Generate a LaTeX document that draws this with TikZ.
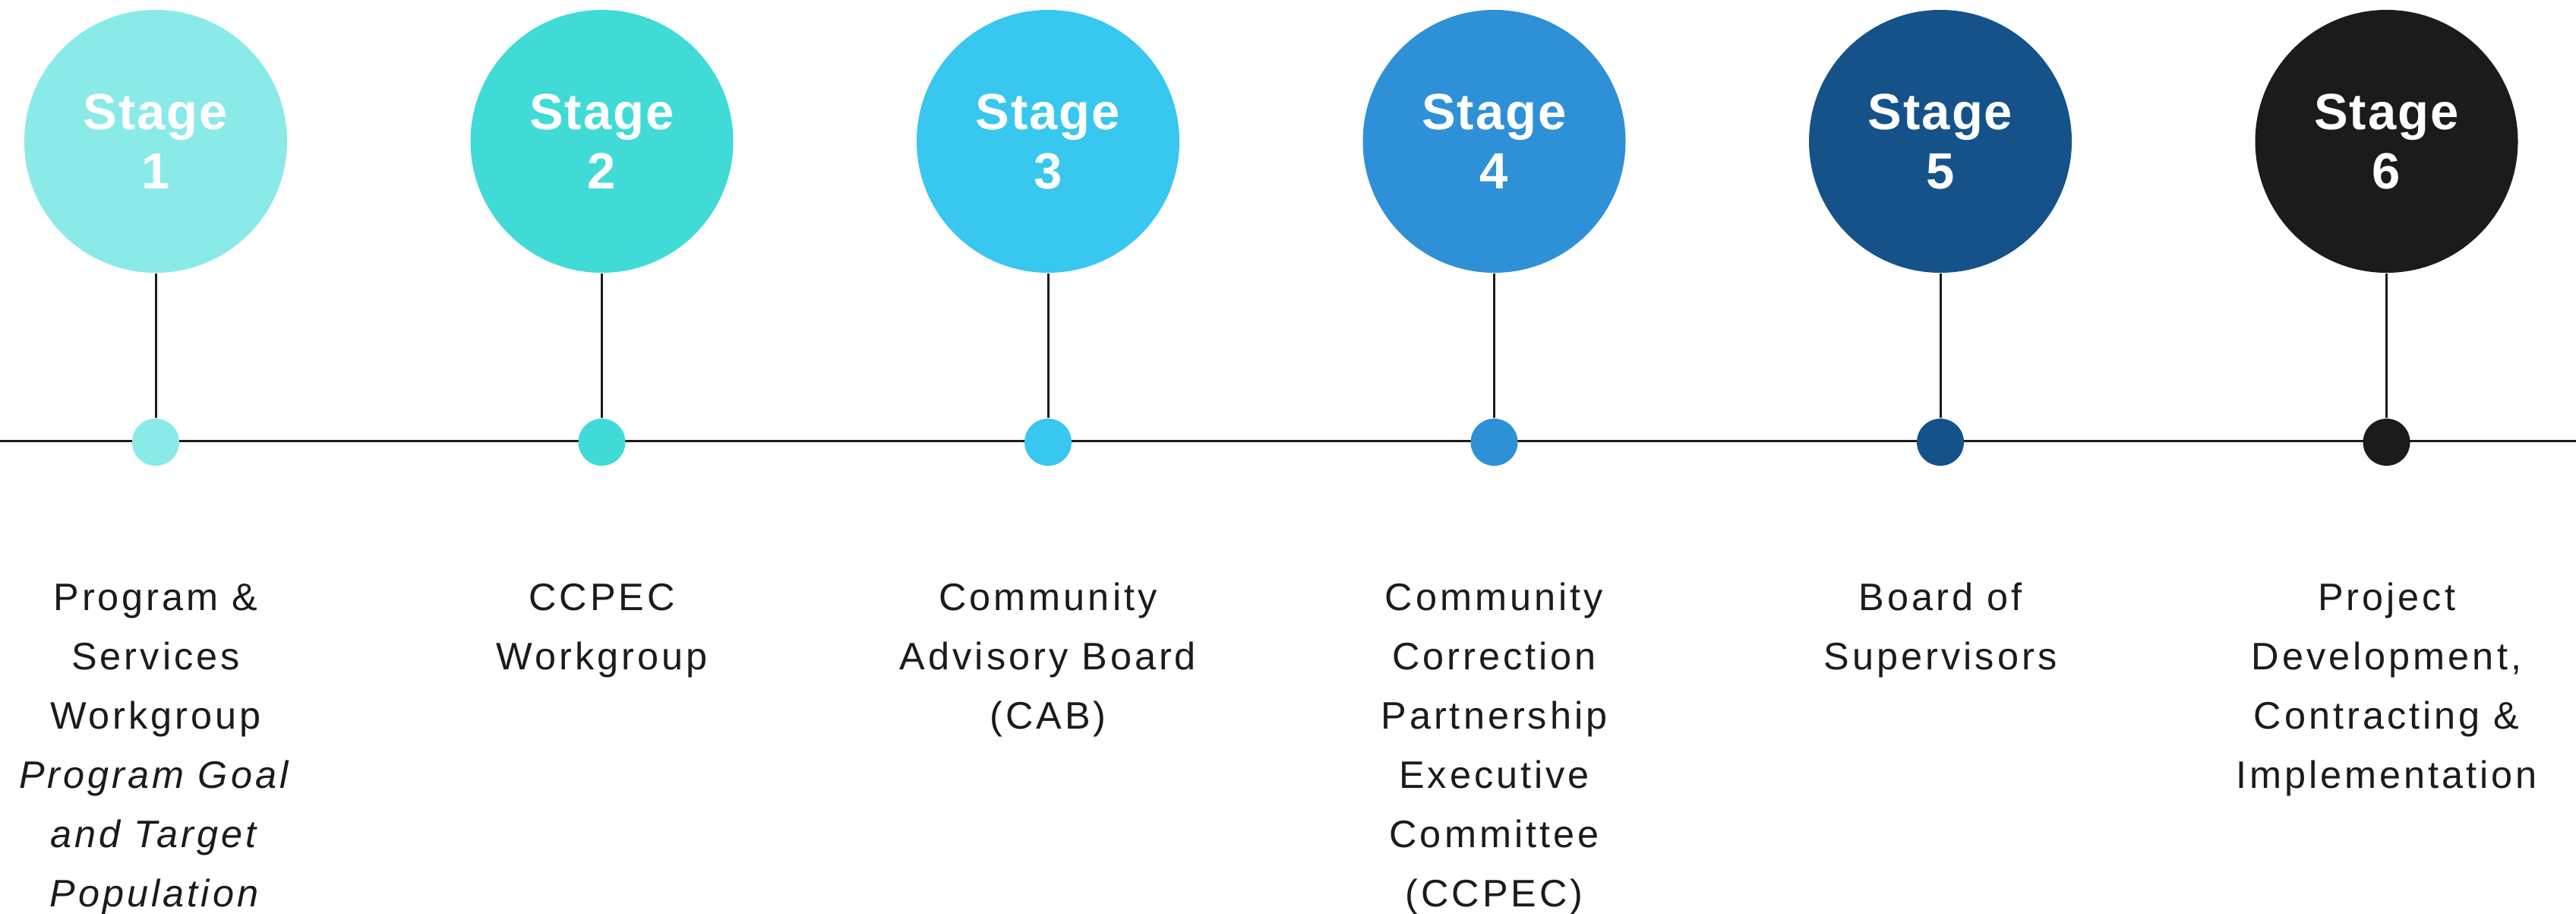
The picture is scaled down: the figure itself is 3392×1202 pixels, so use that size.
\documentclass[tikz,border=0pt]{standalone}
\usepackage{fontspec}
\setmainfont{Liberation Sans}
\newfontfamily\stagefont[LetterSpace=3]{Liberation Sans}
\newfontfamily\labelfont[LetterSpace=8]{Liberation Sans}
\definecolor{sa}{HTML}{8AEAE8}
\definecolor{sb}{HTML}{40DBD6}
\definecolor{sc}{HTML}{38C7EE}
\definecolor{sd}{HTML}{2E91D7}
\definecolor{se}{HTML}{15528A}
\definecolor{sf}{HTML}{1B1B1B}
\definecolor{linecol}{HTML}{1B1B1B}
\begin{document}
\begin{tikzpicture}[x=0.25pt,y=-0.25pt,
  stagecirc/.style={circle, minimum size=86.5pt, inner sep=0pt, text=white,
    font=\stagefont\bfseries\fontsize{16.75}{19.5}\selectfont, align=center},
  dotnode/.style={circle, minimum size=15.5pt, inner sep=0pt},
  conn/.style={draw=linecol, line width=0.75pt},
  lbl/.style={font=\labelfont\fontsize{12.6}{19.5}\selectfont, text=linecol,
    align=center, inner sep=0pt, anchor=base}]
\useasboundingbox (0,0) rectangle (3392,1202);
\fill[white] (0,0) rectangle (3392,1202);
\coordinate (L) at (0,580);
\coordinate (R) at (3392,580);
\draw[conn] (L) -- (R);
% stages
\node[stagecirc, fill=sa] (c1) at (205,186) {Stage\\1};
\node[stagecirc, fill=sb] (c2) at (792.5,186) {Stage\\2};
\node[stagecirc, fill=sc] (c3) at (1380,186) {Stage\\3};
\node[stagecirc, fill=sd] (c4) at (1967.5,186) {Stage\\4};
\node[stagecirc, fill=se] (c5) at (2555,186) {Stage\\5};
\node[stagecirc, fill=sf] (c6) at (3142.5,186) {Stage\\6};
\node[dotnode, fill=sa] (d1) at (205,582) {};
\node[dotnode, fill=sb] (d2) at (792.5,582) {};
\node[dotnode, fill=sc] (d3) at (1380,582) {};
\node[dotnode, fill=sd] (d4) at (1967.5,582) {};
\node[dotnode, fill=se] (d5) at (2555,582) {};
\node[dotnode, fill=sf] (d6) at (3142.5,582) {};
\foreach \i in {1,...,6}{\draw[conn] (c\i.south) -- (d\i.north);}
% labels (anchor = baseline of last line; first line baseline at 803, line pitch 78)
\node[lbl] (t1) at (205,1193) {Program \&\\Services\\Workgroup\\\textit{Program Goal}\\\textit{and Target}\\\textit{Population}};
\node[lbl] (t2) at (792.5,881) {CCPEC\\Workgroup};
\node[lbl] (t3) at (1380,959) {Community\\Advisory Board\\(CAB)};
\node[lbl] (t4) at (1967.5,1193) {Community\\Correction\\Partnership\\Executive\\Committee\\(CCPEC)};
\node[lbl] (t5) at (2555,881) {Board of\\Supervisors};
\node[lbl] (t6) at (3142.5,1037) {Project\\Development,\\Contracting \&\\Implementation};
\end{tikzpicture}
\end{document}
